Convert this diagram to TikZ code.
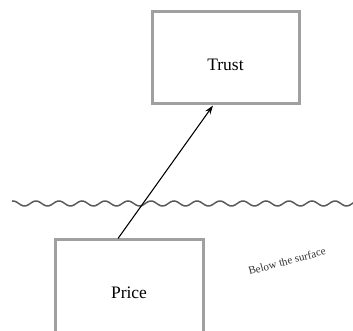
\documentclass[tikz,border=0pt]{standalone}
\usepackage{fontspec}
\setmainfont{Liberation Serif}
\usetikzlibrary{arrows.meta}
\definecolor{boxgray}{RGB}{160,160,160}
\definecolor{wavegray}{RGB}{90,90,90}
\tikzset{
  stagebox/.style={draw=boxgray, line width=3pt, inner sep=0pt, fill=none},
  boxlabel/.style={font=\fontsize{17.5}{20}\selectfont, inner sep=0pt},
  notelabel/.style={font=\fontsize{11}{13}\selectfont, inner sep=0pt, text=black!80},
  wavestyle/.style={draw=wavegray, line width=1.5pt},
  linkarrow/.style={draw=black, line width=1.1pt, -{Stealth[length=9pt,width=6pt]}}
}
\begin{document}
\begin{tikzpicture}[x=1pt,y=1pt]
\useasboundingbox (0,0) rectangle (353,331);
\clip (0,0) rectangle (353,331);
\node[stagebox, minimum width=147pt, minimum height=92pt] (trust) at (225.5,273) {};
\node[boxlabel] (trusttext) at (225.5,266) {Trust};
\node[stagebox, minimum width=148pt, minimum height=95pt] (price) at (129,43.5) {};
\node[boxlabel] (pricetext) at (129,38) {Price};
\draw[wavestyle] plot[domain=12:360, samples=400, smooth] (\x, {127.5+2.5*cos((\x-13)*15.652)});
\draw[linkarrow] ([xshift=-11pt]price.north) -- ([xshift=-12.5pt]trust.south);
\node[notelabel, rotate=15] (surface) at (287,70) {Below the surface};
\end{tikzpicture}
\end{document}
